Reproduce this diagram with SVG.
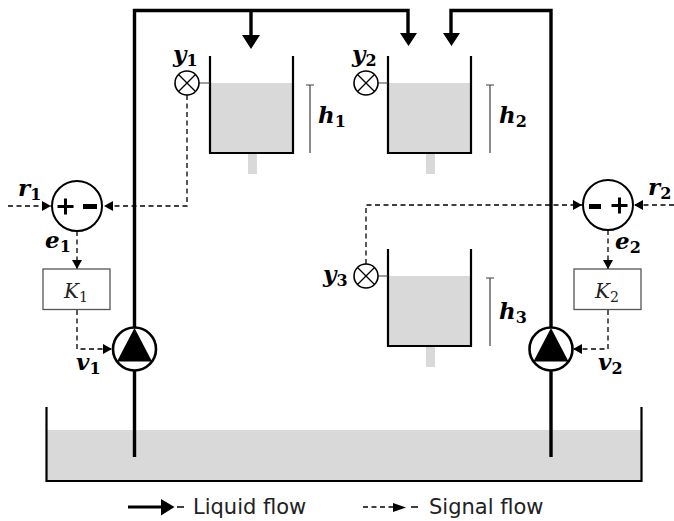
<svg xmlns="http://www.w3.org/2000/svg" width="674" height="521" viewBox="0 0 674 521">
<style>
.fill{fill:#d9d9d9;stroke:none}
.wall{fill:none;stroke:#000;stroke-width:2.2;stroke-linecap:square}
.pipe{fill:none;stroke:#000;stroke-width:3.4;stroke-linejoin:miter}
.sig{fill:none;stroke:#000;stroke-width:1.3;stroke-dasharray:5 3.5}
.thin{fill:none;stroke:#404040;stroke-width:1.2}
.cross{fill:none;stroke:#000;stroke-width:1.3}
.circ{fill:#fff;stroke:#000;stroke-width:1.6}
.sum{fill:#fff;stroke:#000;stroke-width:2}
.pump{fill:#fff;stroke:#000;stroke-width:2.6}
.box{fill:#fff;stroke:#555;stroke-width:1.3}
.m{font-family:"DejaVu Serif","Liberation Serif",serif;font-style:italic;font-weight:bold;font-size:23px;fill:#000}
.s{font-style:normal;font-size:16px}
.k{font-family:"DejaVu Serif","Liberation Serif",serif;font-style:italic;font-size:20px;fill:#222}
.ks{font-style:normal;font-size:14px}
.l{font-family:"DejaVu Sans","Liberation Sans",sans-serif;font-size:21px;fill:#222}
.h{fill:#000;stroke:none}
</style>
<defs>
<marker id="a" markerUnits="userSpaceOnUse" markerWidth="9" markerHeight="10" refX="9" refY="5" orient="auto"><path d="M0 0L9 5L0 10Z" fill="#000"/></marker>
</defs>
<g id="tank1"><rect class="fill" x="210" y="83" width="83" height="70"/><rect class="fill" x="248" y="153" width="9" height="21"/><path class="wall" d="M210 57V153H293V57"/><path class="thin" d="M306 85H314M310 85V153"/><text class="m" x="318" y="123">h<tspan class="s" dy="4">1</tspan></text></g>
<g id="tank2"><rect class="fill" x="388" y="83" width="83" height="70"/><rect class="fill" x="426" y="153" width="9" height="21"/><path class="wall" d="M388 57V153H471V57"/><path class="thin" d="M486 85H494M490 85V153"/><text class="m" x="499" y="123">h<tspan class="s" dy="4">2</tspan></text></g>
<g id="tank3"><rect class="fill" x="388" y="276" width="83" height="70"/><rect class="fill" x="426" y="346" width="9" height="21"/><path class="wall" d="M388 250V346H471V250"/><path class="thin" d="M486 278H494M490 278V346"/><text class="m" x="499" y="319">h<tspan class="s" dy="4">3</tspan></text></g>
<g id="reservoir"><rect class="fill" x="47" y="430" width="595" height="51"/><path class="wall" d="M46.500 408V481H641.500V408"/></g>
<g id="connectors">
<path class="pipe" d="M134.500 328V10.500H408V35M251 10.500V36M451 34V10.500H551V328M134.500 371V457M551 371V457"/>
<path class="h" d="M242 35H260L251 49ZM400 33H417L408.500 46ZM443 33H460L451.500 46Z"/>
<path class="thin" d="M199 83H210M378 83H388M378 276H388"/>
<path class="sig" d="M187 95V206H104" marker-end="url(#a)"/>
<path class="sig" d="M8 206H51" marker-end="url(#a)"/>
<path class="sig" d="M77 231V269" marker-end="url(#a)"/>
<path class="sig" d="M77 310V349H112" marker-end="url(#a)"/>
<path class="sig" d="M366 264V205H582" marker-end="url(#a)"/>
<path class="sig" d="M674 205H634" marker-end="url(#a)"/>
<path class="sig" d="M608 230V269" marker-end="url(#a)"/>
<path class="sig" d="M608 310V349H573" marker-end="url(#a)"/>
</g>
<g id="sensor1"><circle class="circ" cx="187" cy="83" r="12"/><path class="cross" d="M178.500 74.500L195.500 91.500M195.500 74.500L178.500 91.500"/><text class="m" x="173" y="62">y<tspan class="s" dy="4">1</tspan></text></g>
<g id="sensor2"><circle class="circ" cx="366" cy="83" r="12"/><path class="cross" d="M357.500 74.500L374.500 91.500M374.500 74.500L357.500 91.500"/><text class="m" x="352" y="62">y<tspan class="s" dy="4">2</tspan></text></g>
<g id="sensor3"><circle class="circ" cx="366" cy="276" r="12"/><path class="cross" d="M357.500 267.500L374.500 284.500M374.500 267.500L357.500 284.500"/><text class="m" x="323" y="282">y<tspan class="s" dy="4">3</tspan></text></g>
<g id="sum1"><circle class="sum" cx="77" cy="206" r="25"/><path class="h" d="M64 198.500H67V205H73.500V208H67V214.500H64V208H57.500V205H64ZM83 204H97V209H83Z"/><text class="m" x="18" y="196">r<tspan class="s" dy="4">1</tspan></text><text class="m" x="45" y="248">e<tspan class="s" dy="4">1</tspan></text></g>
<g id="sum2"><circle class="sum" cx="608" cy="205" r="25"/><path class="h" d="M618 197.500H621V204H627.500V207H621V213.500H618V207H611.500V204H618ZM589 204H601V209H589Z"/><text class="m" x="648" y="195">r<tspan class="s" dy="4">2</tspan></text><text class="m" x="615" y="249">e<tspan class="s" dy="4">2</tspan></text></g>
<g id="gain1"><rect class="box" x="43" y="269" width="67" height="40.500"/><text class="k" x="64" y="298">K<tspan class="ks" dy="4">1</tspan></text></g>
<g id="gain2"><rect class="box" x="574" y="269" width="67" height="40.500"/><text class="k" x="595" y="298">K<tspan class="ks" dy="4">2</tspan></text></g>
<g id="pump1"><circle class="pump" cx="134.500" cy="349" r="21.500"/><path class="h" d="M134.500 328L152 361.500H117Z"/><text class="m" x="76" y="370">v<tspan class="s" dy="4">1</tspan></text></g>
<g id="pump2"><circle class="pump" cx="551" cy="349" r="21.500"/><path class="h" d="M551 328L568.500 361.500H533.500Z"/><text class="m" x="598" y="370">v<tspan class="s" dy="4">2</tspan></text></g>
<g id="legend">
<path class="h" d="M128 505.500H161V499L174.500 507L161 515.500V508.500H128Z"/><path d="M177 507H184" stroke="#000" stroke-width="1.5"/>
<text class="l" x="193" y="514">Liquid flow</text>
<path class="sig" d="M363 507H398"/><path class="h" d="M393 503L406 507.500L393 512Z"/><path d="M411 507H418" stroke="#000" stroke-width="1.5"/>
<text class="l" x="429" y="514">Signal flow</text>
</g>
</svg>
